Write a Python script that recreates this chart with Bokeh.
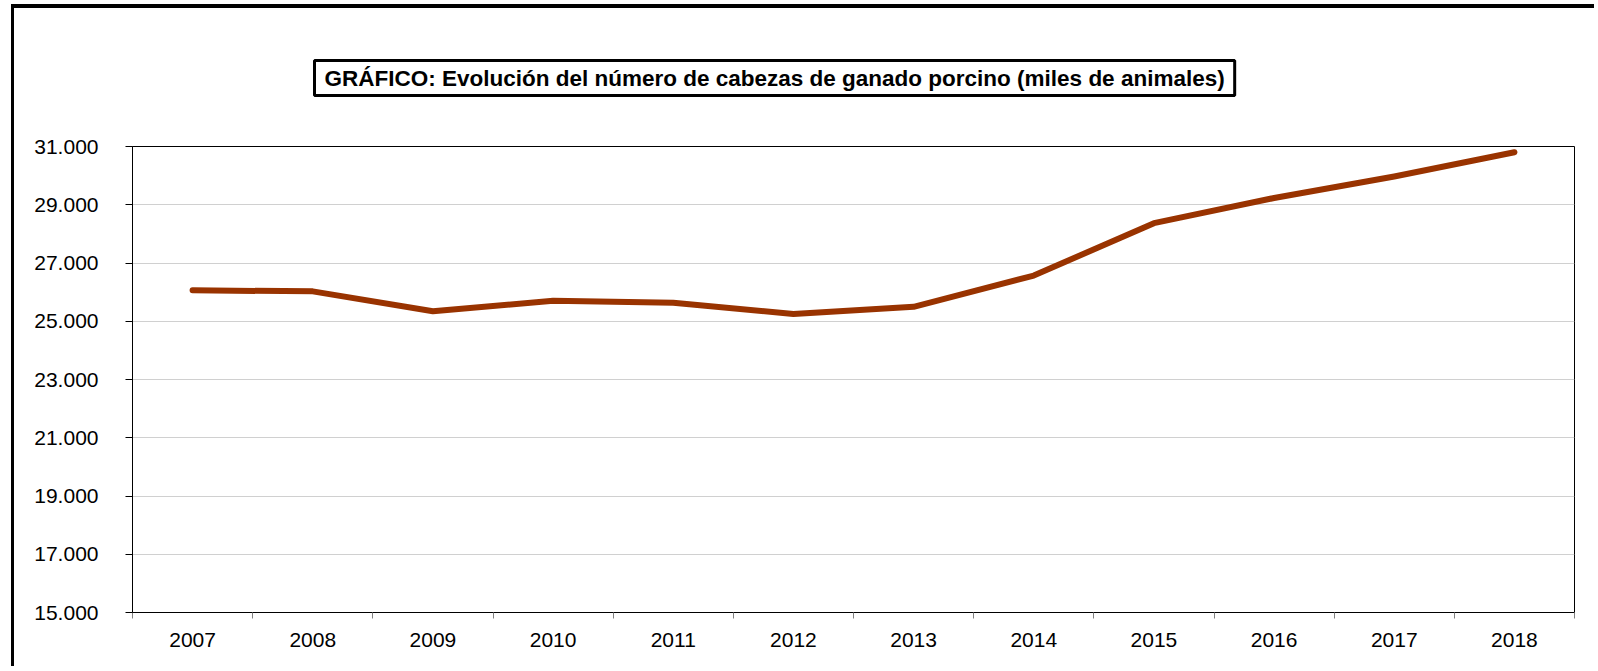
from bokeh.plotting import figure
from bokeh.models import (Range1d, LinearAxis, FixedTicker, Title, ColumnDataSource)
from bokeh.embed import file_html
from bokeh.resources import INLINE

# ---- data ----
years = ["2007", "2008", "2009", "2010", "2011", "2012",
         "2013", "2014", "2015", "2016", "2017", "2018"]
cabezas = [26061, 26026, 25343, 25704, 25635, 25250,
           25495, 26568, 28367, 29232, 29971, 30804]
y_ticks = [15000, 17000, 19000, 21000, 23000, 25000, 27000, 29000, 31000]
y_tick_labels = ["15.000", "17.000", "19.000", "21.000", "23.000",
                 "25.000", "27.000", "29.000", "31.000"]
title_text = "GRÁFICO: Evolución del número de cabezas de ganado porcino (miles de animales)"

FONT = "Liberation Sans"

n = len(years)
centers = [i + 0.5 for i in range(n)]      # category centres on the x scale
bounds = list(range(n + 1))                # category boundaries

title = Title(text=title_text, text_font=FONT, text_font_size="22.5px",
              text_font_style="bold", text_color="black",
              align="left", offset=182, vertical_align="top", standoff=98,
              border_line_color="black", border_line_width=3,
              background_fill_color="white", padding=(10, 5))

p = figure(width=1583, height=662,
           x_range=Range1d(0, n),
           y_range=Range1d(y_ticks[0], y_ticks[-1]),
           output_backend="svg", toolbar_location=None,
           x_axis_location=None, y_axis_location="left", title=title,
           min_border_left=118, min_border_right=23,
           min_border_top=138, min_border_bottom=58)
p.styles = {"margin-top": "4px", "margin-left": "11px",
            "border-top": "4px solid black", "border-left": "3px solid black"}
p.background_fill_color = "white"
p.border_fill_color = "white"
p.outline_line_color = "black"
p.outline_line_width = 1

# x axis: year labels at category centres, tick marks at category boundaries
xax = LinearAxis(ticker=FixedTicker(ticks=centers, minor_ticks=bounds))
xax.major_label_overrides = dict(zip(centers, years))
xax.axis_line_color = "black"
xax.axis_line_width = 1
xax.major_tick_in = 0
xax.major_tick_out = 0
xax.major_tick_line_color = None
xax.minor_tick_in = 0
xax.minor_tick_out = 6
xax.minor_tick_line_color = "#808080"
xax.major_label_standoff = 14
xax.major_label_text_font = FONT
xax.major_label_text_font_size = "21px"
xax.major_label_text_color = "black"
p.add_layout(xax, "below")

yax = p.yaxis[0]
yax.ticker = FixedTicker(ticks=y_ticks)
yax.major_label_overrides = dict(zip(y_ticks, y_tick_labels))
yax.axis_line_color = "black"
yax.major_tick_in = 0
yax.major_tick_out = 7
yax.major_tick_line_color = "black"
yax.minor_tick_line_color = None
yax.major_label_standoff = 27
yax.major_label_text_font = FONT
yax.major_label_text_font_size = "21px"
yax.major_label_text_color = "black"

p.xgrid.visible = False
p.ygrid.ticker = FixedTicker(ticks=y_ticks)
p.ygrid.grid_line_color = "#d0d0d0"
p.ygrid.grid_line_width = 1

src = ColumnDataSource(data=dict(x=centers, year=years, val=cabezas))
p.line(x="x", y="val", source=src, line_color="#993300", line_width=6,
       line_cap="round", line_join="round")

open("out.html", "w").write(file_html(p, INLINE))
